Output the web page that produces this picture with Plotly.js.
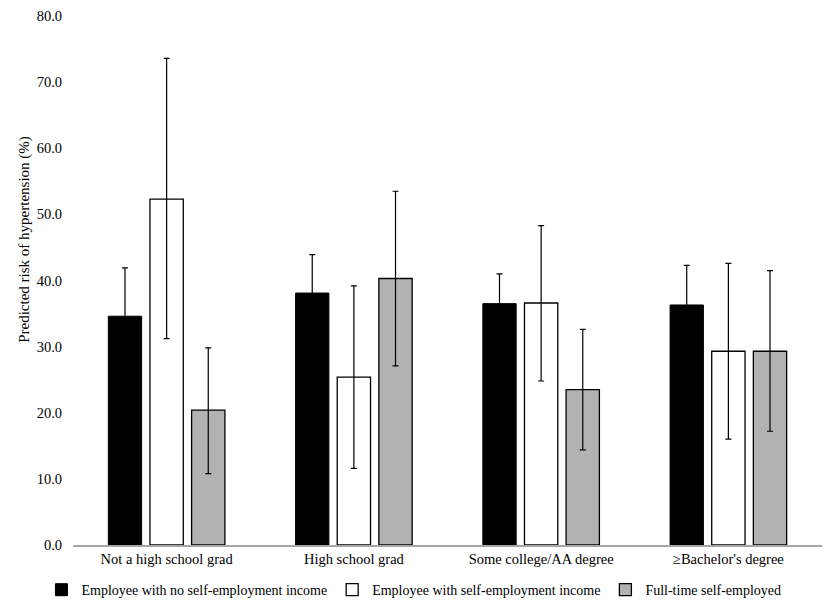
<!DOCTYPE html>
<html>
<head>
<meta charset="utf-8">
<script src="https://cdn.plot.ly/plotly-3.0.1.min.js"></script>
<style>
  html, body { margin: 0; padding: 0; background: #fff; }
  #chart { width: 829px; height: 603px; }
</style>
</head>
<body>
<div id="chart"></div>
<script>
var categories = ["Not a high school grad", "High school grad", "Some college/AA degree", "\u2265Bachelor's degree"];

var noSelfEmp = [34.6, 38.1, 36.5, 36.3];
var noSelfEmpLow = [27.1, 32.2, 31.9, 30.2];
var noSelfEmpHigh = [41.9, 43.9, 41.0, 42.3];

var withSelfEmp = [52.3, 25.4, 36.6, 29.3];
var withSelfEmpLow = [31.2, 11.6, 24.8, 16.0];
var withSelfEmpHigh = [73.6, 39.2, 48.3, 42.6];

var fullTime = [20.4, 40.3, 23.5, 29.3];
var fullTimeLow = [10.8, 27.1, 14.4, 17.2];
var fullTimeHigh = [29.8, 53.5, 32.6, 41.5];

var yTicks = [0, 10, 20, 30, 40, 50, 60, 70, 80];

var serif = '"Liberation Serif", "Times New Roman", serif';

function errBar(vals, low, high, col) {
  return {
    type: 'data',
    symmetric: false,
    array: high.map(function (h, i) { return h - vals[i]; }),
    arrayminus: low.map(function (l, i) { return vals[i] - l; }),
    color: col,
    thickness: 1.2,
    width: 3
  };
}

var black = {
  x: categories, y: noSelfEmp, type: 'bar',
  name: 'Employee with no self-employment income',
  marker: { color: '#000', line: { color: '#000', width: 1 } },
  error_y: errBar(noSelfEmp, noSelfEmpLow, noSelfEmpHigh, '#000')
};
var white = {
  x: categories, y: withSelfEmp, type: 'bar',
  name: 'Employee with self-employment income',
  marker: { color: '#fff', line: { color: '#000', width: 1.3 } },
  error_y: errBar(withSelfEmp, withSelfEmpLow, withSelfEmpHigh, '#000')
};
var gray = {
  x: categories, y: fullTime, type: 'bar',
  name: 'Full-time self-employed',
  marker: { color: '#b2b2b2', line: { color: '#000', width: 1.3 } },
  error_y: errBar(fullTime, fullTimeLow, fullTimeHigh, '#000')
};

var layout = {
  width: 829,
  height: 603,
  margin: { l: 73, r: 7, t: 16, b: 58, autoexpand: false },
  paper_bgcolor: '#fff',
  plot_bgcolor: '#fff',
  font: { family: serif, size: 14, color: '#000' },
  bargap: 0.333,
  bargroupgap: 0.2,
  showlegend: true,
  legend: {
    orientation: 'h', xref: 'container', x: 0.05, xanchor: 'left',
    y: -0.055, yanchor: 'top',
    font: { family: serif, size: 14 }, traceorder: 'normal', itemwidth: 30
  },
  xaxis: {
    showline: true, linecolor: '#a6a6a6', linewidth: 1.5,
    ticks: '', showgrid: false, zeroline: false,
    tickfont: { family: serif, size: 14.5 }
  },
  yaxis: {
    range: [0, 80], tickvals: yTicks, tickformat: '.1f',
    showgrid: false, zeroline: false, showline: false, ticks: '',
    ticklabelstandoff: 10,
    tickfont: { family: serif, size: 14.5 }
  },
  annotations: [{
    text: 'Predicted risk of hypertension (%)',
    xref: 'paper', yref: 'paper', x: -0.064, y: 0.577,
    xanchor: 'center', yanchor: 'middle', textangle: -90,
    showarrow: false, font: { family: serif, size: 15 }
  }]
};

Plotly.newPlot('chart', [black, white, gray], layout, { displayModeBar: false, staticPlot: true });
</script>
</body>
</html>
